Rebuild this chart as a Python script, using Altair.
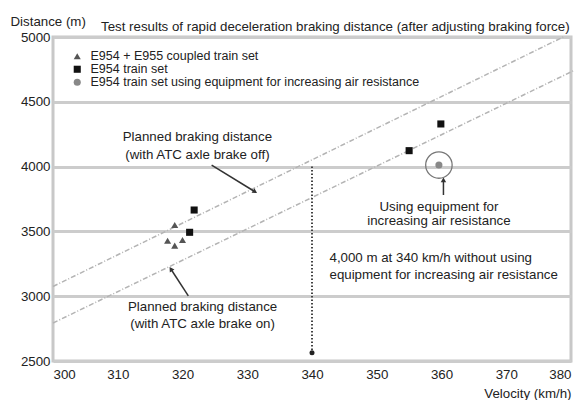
import altair as alt
import pandas as pd

FONT = "Liberation Sans"
TXT = "#222222"
FS = 13.3

# ---- data ----
tri_v = [318.8, 317.7, 318.8, 320.0]
tri_d = [3549, 3428, 3390, 3434]
sq_v = [321.1, 321.8, 355.0, 359.9]
sq_d = [3493, 3665, 4123, 4329]
air_v = [359.6]
air_d = [4012]

series_names = [
    "E954 + E955 coupled train set",
    "E954 train set",
    "E954 train set using equipment for increasing air resistance",
]

off_v = [300, 378.8]
off_d = [3075, 5000]
on_v = [300, 380.6]
on_d = [2793, 4745]

x_ticks = [300, 310, 320, 330, 340, 350, 360, 370, 380]
y_ticks = [2500, 3000, 3500, 4000, 4500, 5000]

# annotations (centre aligned)
ann_c_text = ["Planned braking distance", "(with ATC axle brake off)",
              "Planned braking distance", "(with ATC axle brake on)",
              "Using equipment for", "increasing air resistance"]
ann_c_v = [322.3, 322.3, 323.1, 323.1, 359.6, 359.6]
ann_c_d = [4228, 4090, 2917, 2783, 3691, 3580]
# annotations (left aligned)
ann_l_text = ["4,000 m at 340 km/h without using",
              "equipment for increasing air resistance"]
ann_l_v = [342.7, 342.7]
ann_l_d = [3292, 3164]

# arrows: tail -> head
arr_v1 = [324.5, 320.9, 360.3]
arr_d1 = [4012, 3002, 3781]
arr_v2 = [331.2, 318.2, 360.3]
arr_d2 = [3806, 3210, 3897]
arr_ang = [122, 327, 0]

# 340 km/h marker line
mark_v = [340]
mark_d1 = [4000]
mark_d2 = [2564]

# ---- tables ----
pts = pd.DataFrame({
    "v": tri_v + sq_v + air_v,
    "d": tri_d + sq_d + air_d,
    "series": [series_names[0]] * len(tri_v) + [series_names[1]] * len(sq_v)
              + [series_names[2]] * len(air_v),
})
lines = pd.DataFrame({
    "v": off_v + on_v,
    "d": off_d + on_d,
    "name": ["off"] * len(off_v) + ["on"] * len(on_v),
})
annc = pd.DataFrame({"v": ann_c_v, "d": ann_c_d, "t": ann_c_text})
annl = pd.DataFrame({"v": ann_l_v, "d": ann_l_d, "t": ann_l_text})
arr = pd.DataFrame({"v1": arr_v1, "d1": arr_d1, "v2": arr_v2, "d2": arr_d2, "a": arr_ang})
mk = pd.DataFrame({"v": mark_v, "d1": mark_d1, "d2": mark_d2})
air = pd.DataFrame({"v": air_v, "d": air_d})

xs = alt.Scale(domain=[300, 380], nice=False, zero=False)
ys = alt.Scale(domain=[2500, 5000], nice=False, zero=False)

X = alt.X("v:Q", scale=xs, axis=alt.Axis(
    values=x_ticks, format="d", title="Velocity (km/h)", grid=False, domain=False,
    ticks=False, labelPadding=6, labelFontSize=FS, labelFont=FONT, labelColor=TXT,
    titleFont=FONT, titleFontSize=FS, titleFontWeight="normal", titleColor=TXT,
    titleAnchor="end", titleAlign="right", titleX=518, titleY=32, titleBaseline="middle"))
Y = alt.Y("d:Q", scale=ys, axis=alt.Axis(
    values=y_ticks, format="d", title="Distance (m)", grid=True, gridColor="#cccccc",
    gridWidth=3, domain=False, ticks=False, labelPadding=3, labelFontSize=FS,
    labelFont=FONT, labelColor=TXT, titleFont=FONT, titleFontSize=FS,
    titleFontWeight="normal", titleColor=TXT, titleAngle=0, titleAlign="left",
    titleBaseline="middle", titleX=-43, titleY=-16))

legend = alt.Legend(title=None, orient="none", legendX=18, legendY=13,
                    labelFont=FONT, labelFontSize=12.5, labelColor=TXT,
                    symbolSize=50, rowPadding=-2.7, labelOffset=7, padding=0,
                    labelLimit=600, symbolStrokeWidth=0)

base_lines = alt.Chart(lines).mark_line(
    strokeDash=[5, 2, 1, 2], color="#b4b4b4", strokeWidth=1.5
).encode(x=X, y=Y, detail="name:N")

points = alt.Chart(pts).mark_point(filled=True, size=50, opacity=1).encode(
    x=alt.X("v:Q", scale=xs),
    y=alt.Y("d:Q", scale=ys),
    shape=alt.Shape("series:N", scale=alt.Scale(
        domain=series_names, range=["triangle-up", "square", "circle"]), legend=legend),
    color=alt.Color("series:N", scale=alt.Scale(
        domain=series_names, range=["#555555", "#111111", "#888888"]), legend=legend),
)

ring = alt.Chart(air).mark_point(
    shape="circle", size=700, filled=False, stroke="#777777", strokeWidth=1.3, opacity=1
).encode(x=alt.X("v:Q", scale=xs), y=alt.Y("d:Q", scale=ys))

arrows = alt.Chart(arr).mark_rule(color="#333333", strokeWidth=1.5).encode(
    x=alt.X("v1:Q", scale=xs), y=alt.Y("d1:Q", scale=ys), x2="v2:Q", y2="d2:Q")
heads = alt.Chart(arr).mark_point(
    shape="triangle-up", filled=True, size=30, color="#333333", opacity=1
).encode(x=alt.X("v2:Q", scale=xs), y=alt.Y("d2:Q", scale=ys),
         angle=alt.Angle("a:Q", scale=None))

mline = alt.Chart(mk).mark_rule(color="#444444", strokeWidth=2, strokeDash=[1.5, 2]).encode(
    x=alt.X("v:Q", scale=xs), y=alt.Y("d1:Q", scale=ys), y2="d2:Q")
mhead = alt.Chart(mk).mark_point(
    shape="circle", filled=True, size=25, color="#222222", opacity=1
).encode(x=alt.X("v:Q", scale=xs), y=alt.Y("d2:Q", scale=ys))

tc = alt.Chart(annc).mark_text(
    align="center", baseline="middle", font=FONT, fontSize=FS, color=TXT
).encode(x=alt.X("v:Q", scale=xs), y=alt.Y("d:Q", scale=ys), text="t:N")
tl = alt.Chart(annl).mark_text(
    align="left", baseline="middle", font=FONT, fontSize=FS, color=TXT
).encode(x=alt.X("v:Q", scale=xs), y=alt.Y("d:Q", scale=ys), text="t:N")

chart = alt.layer(
    base_lines, mline, mhead, arrows, heads, ring, points, tc, tl
).properties(
    width=518, height=324,
    title=alt.TitleParams(
        "Test results of rapid deceleration braking distance (after adjusting braking force)",
        anchor="start", frame="group", font=FONT, fontSize=FS, fontWeight="normal",
        color=TXT, dx=48, dy=26, offset=0, baseline="middle"),
    padding={"left": 45, "top": 29, "right": 5, "bottom": 39},
    autosize=alt.AutoSizeParams(type="none"),
).configure_view(stroke="#c8c8c8", strokeWidth=3)

chart.save("out.html", embed_options={"renderer": "svg", "actions": False})
